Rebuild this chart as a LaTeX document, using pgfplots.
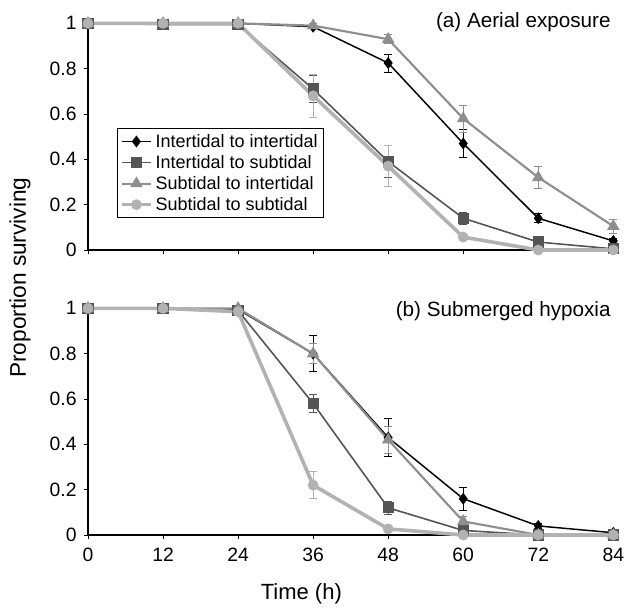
\documentclass[border=0pt]{standalone}
\usepackage{pgfplots}
\pgfplotsset{compat=1.18}
\usepackage{fontspec}
\setmainfont{Liberation Sans}

\definecolor{cII}{HTML}{000000}
\definecolor{cIS}{HTML}{555555}
\definecolor{cSI}{HTML}{8E8E8E}
\definecolor{cSS}{HTML}{B2B2B2}

\pgfplotsset{
  panel/.style={
    scale only axis,
    width=394pt, height=170pt,
    xmin=0, xmax=84, ymin=0, ymax=1,
    axis lines*=left,
    axis line style={line width=0.9pt},
    clip=false,
    tick align=outside,
    major tick length=3pt,
    tick style={line width=0.7pt, black},
    xtick={0,12,24,36,48,60,72,84},
    ytick={0,0.2,0.4,0.6,0.8,1},
    yticklabels={0,0.2,0.4,0.6,0.8,1},
    /pgf/number format/assume math mode=true,
    ticklabel style={font=\fontsize{14.5}{17}\selectfont},
    yticklabel style={xshift=-2pt},
    error bars/y dir=both,
    error bars/y explicit,
    error bars/error bar style={line width=0.6pt},
    error bars/error mark options={rotate=90, mark size=3pt, line width=0.6pt},
    legend image code/.code={
      \draw[mark repeat=2,mark phase=2,#1] plot coordinates {(0pt,0pt) (11pt,0pt) (22pt,0pt)};},
  },
  sII/.style={color=cII, line width=1.1pt, mark=diamond*, mark size=3.6pt, mark options={solid}},
  sIS/.style={color=cIS, line width=1.2pt, mark=square*, mark size=3.6pt},
  sSI/.style={color=cSI, line width=1.6pt, mark=triangle*, mark size=3.8pt},
  sSS/.style={color=cSS, line width=2.7pt, mark=*, mark size=3.8pt, mark options={line width=0.5pt}},
}

\begin{document}
\begin{tikzpicture}
\path[use as bounding box] (0,0) rectangle (468.75pt,458.25pt);

% (a) aerial exposure
\begin{axis}[panel, at={(66pt,270.75pt)}, anchor=south west,
  xticklabels={},
  legend style={at={(0.055,0.537)}, anchor=north west, draw=black, line width=0.6pt,
    font=\fontsize{13.5}{16}\selectfont, row sep=0.5pt, inner sep=2pt,
    cells={anchor=west}},
]
\addplot[sII] coordinates {(0,1) (12,1) (24,1) (36,0.985) (48,0.825) +- (0,0.04) (60,0.47) +- (0,0.06) (72,0.14) +- (0,0.02) (84,0.04) +- (0,0.01)};
\addlegendentry{Intertidal to intertidal}
\addplot[sIS] coordinates {(0,1) (12,0.995) (24,0.995) (36,0.71) +- (0,0.06) (48,0.39) +- (0,0.07) (60,0.14) +- (0,0.025) (72,0.035) +- (0,0.008) (84,0.005)};
\addlegendentry{Intertidal to subtidal}
\addplot[sSI] coordinates {(0,1) (12,1) (24,1) (36,0.99) +- (0,0.01) (48,0.93) +- (0,0.02) (60,0.58) +- (0,0.06) (72,0.32) +- (0,0.05) (84,0.105) +- (0,0.03)};
\addlegendentry{Subtidal to intertidal}
\addplot[sSS] coordinates {(0,1) (12,1) (24,1) (36,0.68) +- (0,0.095) (48,0.37) +- (0,0.09) (60,0.057) +- (0,0.005) (72,0) (84,0)};
\addlegendentry{Subtidal to subtidal}
\end{axis}

% (b) submerged hypoxia
\begin{axis}[panel, at={(66pt,57pt)}, anchor=south west,
  xticklabels={0,12,24,36,48,60,72,84},
  xticklabel style={yshift=-3pt},
]
\addplot[sII] coordinates {(0,1) (12,1) (24,0.995) (36,0.80) +- (0,0.08) (48,0.43) +- (0,0.085) (60,0.16) +- (0,0.05) (72,0.04) +- (0,0.01) (84,0.01)};
\addplot[sIS] coordinates {(0,1) (12,1) (24,0.99) (36,0.58) +- (0,0.04) (48,0.12) +- (0,0.03) (60,0.02) +- (0,0.01) (72,0) (84,0)};
\addplot[sSI] coordinates {(0,1) (12,1) (24,1) (36,0.80) +- (0,0.045) (48,0.42) +- (0,0.06) (60,0.06) +- (0,0.02) (72,0) (84,0)};
\addplot[sSS] coordinates {(0,1) (12,1) (24,0.985) (36,0.22) +- (0,0.06) (48,0.027) +- (0,0.005) (60,0) (72,0) (84,0)};
\end{axis}

\node[anchor=east, font=\fontsize{15.5}{19}\selectfont] at (461.5pt,441.5pt) {(a) Aerial exposure};
\node[anchor=east, font=\fontsize{15.5}{19}\selectfont] at (461.5pt,225pt) {(b) Submerged hypoxia};
\node[rotate=90, font=\fontsize{17}{20}\selectfont] at (15pt,250pt) {Proportion surviving};
\node[font=\fontsize{16.5}{20}\selectfont] at (226pt,13pt) {Time (h)};
\end{tikzpicture}
\end{document}
